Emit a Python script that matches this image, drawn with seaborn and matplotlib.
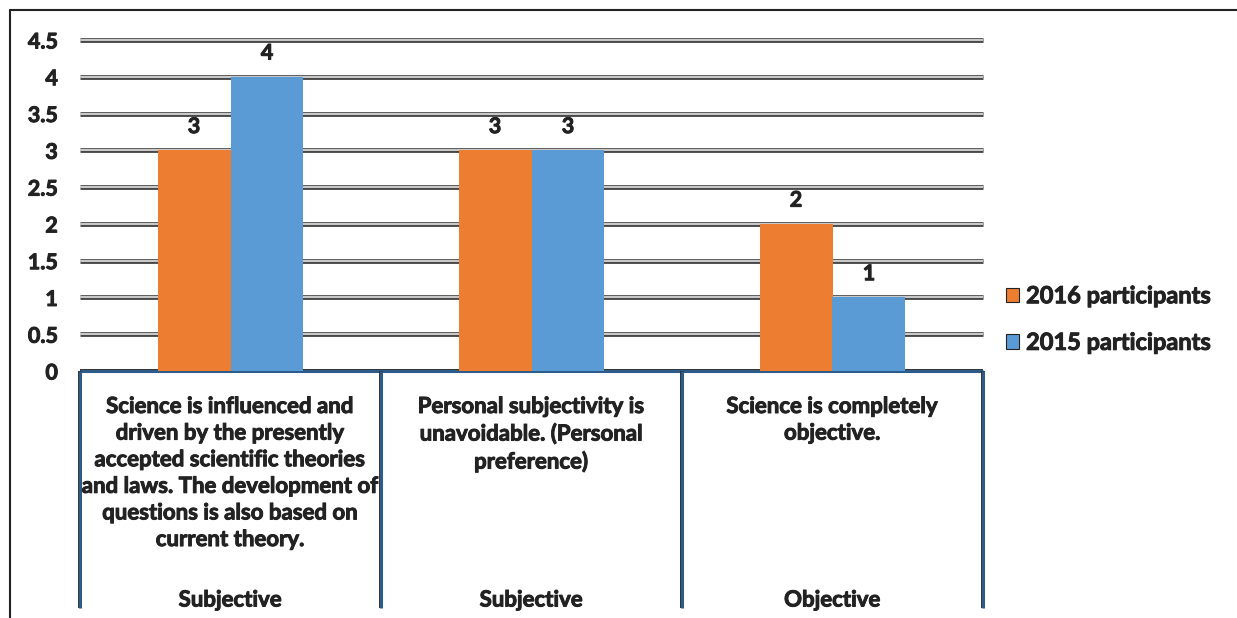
import matplotlib
matplotlib.use("Agg")
import matplotlib.pyplot as plt
import matplotlib.patheffects as pe
import matplotlib.transforms as mtransforms
import pandas as pd
import seaborn as sns

# Data
categories = ["Cat A", "Cat B", "Cat C"]
descriptions = [
    "Science is influenced and\ndriven by the presently\naccepted scientific theories\nand laws. The development of\nquestions is also based on\ncurrent theory.",
    "Personal subjectivity is\nunavoidable. (Personal\npreference)",
    "Science is completely\nobjective.",
]
groups = ["Subjective", "Subjective", "Objective"]
series_names = ["2016 participants", "2015 participants"]
values_2016 = [3, 3, 2]
values_2015 = [4, 3, 1]
y_ticks = [0, 0.5, 1, 1.5, 2, 2.5, 3, 3.5, 4, 4.5]
y_tick_labels = ["0", "0.5", "1", "1.5", "2", "2.5", "3", "3.5", "4", "4.5"]

colors = ["#ED7D31", "#5B9BD5"]
text_color = "#222222"
heavy = [pe.withStroke(linewidth=0.7, foreground=text_color)]

sns.set_theme(style="white")
plt.rcParams["font.family"] = ["Lato", "DejaVu Sans"]
plt.rcParams["font.weight"] = "bold"

df = pd.DataFrame({
    "category": categories * 2,
    "series": [series_names[0]] * 3 + [series_names[1]] * 3,
    "value": values_2016 + values_2015,
})

W, H = 1237, 618
fig = plt.figure(figsize=(W / 100, H / 100), dpi=100)
x0, x1, ytop, ybot = 80, 983, 40, 371
ax = fig.add_axes([x0 / W, (H - ybot) / H, (x1 - x0) / W, (ybot - ytop) / H])

sns.barplot(data=df, x="category", y="value", hue="series", order=categories,
            hue_order=series_names, palette=colors, width=0.485, ax=ax,
            legend=True, saturation=1, zorder=3, linewidth=0)

ax.set_xlim(-0.5, 2.5)
ax.set_ylim(0, 4.5)
for s in ax.spines.values():
    s.set_visible(False)
ax.set_xlabel("")
ax.set_ylabel("")
ax.set_xticks([])
ax.set_yticks(y_ticks)
ax.set_yticklabels(y_tick_labels, fontsize=15.5, fontweight="bold", color=text_color)
for lbl in ax.get_yticklabels():
    lbl.set_path_effects(heavy)
ax.tick_params(axis="y", length=0, pad=16)

# Gridlines with a dark outline
for yv in y_ticks[1:]:
    ax.axhline(yv, color="#C8C8C8", lw=1.6, zorder=1, clip_on=False,
               solid_capstyle="butt",
               path_effects=[pe.Stroke(linewidth=3.4, foreground="#3A3A3A"), pe.Normal()])

# Value labels
for cont in ax.containers:
    for bar in cont:
        h = bar.get_height()
        ax.text(bar.get_x() + bar.get_width() / 2, h + 0.18, f"{h:g}",
                ha="center", va="bottom", fontsize=15.5, fontweight="bold",
                color=text_color, path_effects=heavy)

# Category table under the axis
trans = mtransforms.blended_transform_factory(ax.transData, ax.transAxes)
px = 1.0 / (ybot - ytop)
line_kw = dict(color="#2E5C8A", lw=2.2, clip_on=False, transform=trans,
               solid_capstyle="butt",
               path_effects=[pe.Stroke(linewidth=2.8, foreground="#2B2B2B"), pe.Normal()])
ax.plot([-0.5, 2.5], [0, 0], **line_kw)
for xb in [-0.5, 0.5, 1.5, 2.5]:
    ax.plot([xb, xb], [0, -(608 - ybot) * px], **line_kw)
for i, (desc, grp) in enumerate(zip(descriptions, groups)):
    ax.text(i, -(396 - ybot) * px, desc, transform=trans, ha="center", va="top",
            fontsize=16, fontweight="bold", color=text_color, linespacing=1.33,
            path_effects=heavy)
    ax.text(i, -(600 - ybot) * px, grp, transform=trans, ha="center", va="center",
            fontsize=16, fontweight="bold", color=text_color, path_effects=heavy)

# Legend
leg = ax.legend(loc="center left", bbox_to_anchor=(1.015, 0.157), frameon=False,
                prop={"size": 17, "weight": "bold"}, handlelength=0.55,
                handleheight=0.55, handletextpad=0.3, labelspacing=1.0,
                borderaxespad=0)
for t in leg.get_texts():
    t.set_color(text_color)
    t.set_path_effects(heavy)
for h in leg.legend_handles:
    h.set_edgecolor("#222222")
    h.set_linewidth(0.8)

# Outer frame
fig.add_artist(plt.Line2D([10 / W, 10 / W], [0, 1 - 10 / H], color="#222222", lw=1.5,
                          transform=fig.transFigure))
fig.add_artist(plt.Line2D([10 / W, 1], [1 - 10 / H, 1 - 10 / H], color="#222222", lw=1.5,
                          transform=fig.transFigure))

fig.savefig("out.png", dpi=100, facecolor="white")
